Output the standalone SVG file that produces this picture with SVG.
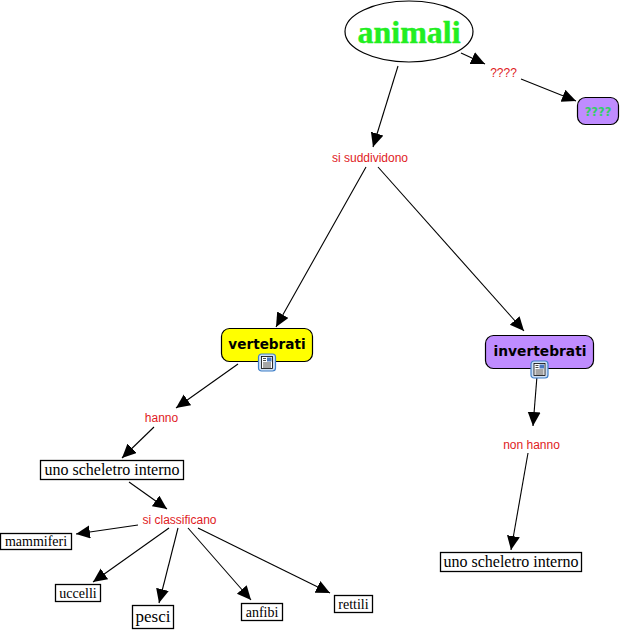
<svg xmlns="http://www.w3.org/2000/svg" width="620" height="630" viewBox="0 0 620 630">
<defs>
<marker id="ah" markerUnits="userSpaceOnUse" markerWidth="15" markerHeight="14" refX="14" refY="6.500" orient="auto"><path d="M0 0L14 6.500L0 13Z" fill="#000"/></marker>
<g id="doc"><rect x="0" y="0" width="17" height="17" rx="3" fill="#cfe0f5" stroke="#3f7fc8" stroke-width="1.2"/><rect x="3" y="2.500" width="11" height="12" fill="#fff" stroke="#000" stroke-width="0.8"/><path d="M4.500 9H12.500M4.500 11H12.500M4.500 13H12.500M4.500 4.500H7.500M4.500 6.500H7.500" stroke="#000" stroke-width="0.7" fill="none"/><rect x="8.500" y="3.500" width="4.500" height="4" fill="#4a78c0"/></g>
</defs>
<style>
.c{stroke:#000;stroke-width:1.1;fill:none;marker-end:url(#ah)}
.l{font:12px "Liberation Sans",Arial,sans-serif;fill:#e01b24;text-anchor:middle}
.b{fill:#fff;stroke:#000;stroke-width:1.3}
.t{font-family:"Liberation Serif","Times New Roman",serif;fill:#000;text-anchor:middle}
.r{stroke:#000;stroke-width:1.2}
.v{font-family:"DejaVu Sans",Verdana,sans-serif;font-weight:bold;text-anchor:middle}
</style>
<rect width="620" height="630" fill="#fff"/>
<g id="connectors">
<path class="c" d="M398 66L373 147"/>
<path class="c" d="M461 53L485 64"/>
<path class="c" d="M521 79L576 101"/>
<path class="c" d="M366 167L276 327"/>
<path class="c" d="M378 167L524 331"/>
<path class="c" d="M238 364L176 408"/>
<path class="c" d="M154 427L122 458"/>
<path class="c" d="M129 482L167 509"/>
<path class="c" d="M138 525L76 534"/>
<path class="c" d="M169 528L93 582"/>
<path class="c" d="M178 528L159 603"/>
<path class="c" d="M188 528L251 600"/>
<path class="c" d="M198 528L330 593"/>
<path class="c" d="M537 376L533 426"/>
<path class="c" d="M528 453L511 550"/>
</g>
<g id="animali"><ellipse cx="409" cy="31.500" rx="64" ry="30.500" fill="#fff" stroke="#000" stroke-width="1.2"/><text class="t" x="409" y="43" font-size="32" font-weight="bold" style="fill:#22ee22;stroke:#22ee22;stroke-width:.4">animali</text></g>
<g id="label-q"><text class="l" x="503.500" y="76.500">????</text></g>
<g id="node-q"><rect class="r" x="577.500" y="97.500" width="41" height="27" rx="8" fill="#bf8cff"/><text class="v" x="598" y="116" font-size="11.500" style="fill:#33cc66">????</text></g>
<g id="label-suddividono"><text class="l" x="370" y="162">si suddividono</text></g>
<g id="vertebrati"><rect class="r" x="221.500" y="328.500" width="91" height="33" rx="8" fill="#ffff00"/><text class="v" x="267" y="349" font-size="13.600">vertebrati</text><use href="#doc" x="258.500" y="354"/></g>
<g id="invertebrati"><rect class="r" x="485.500" y="335.500" width="108" height="33" rx="8" fill="#bf8cff"/><text class="v" x="540" y="356" font-size="13.800">invertebrati</text><use href="#doc" x="531" y="361"/></g>
<g id="label-hanno"><text class="l" x="161.500" y="422">hanno</text></g>
<g id="label-nonhanno"><text class="l" x="531.500" y="449">non hanno</text></g>
<g id="scheletro1"><rect class="b" x="40.500" y="460.500" width="143" height="19"/><text class="t" x="112" y="475" font-size="16">uno scheletro interno</text></g>
<g id="scheletro2"><rect class="b" x="440.500" y="552.500" width="141" height="19"/><text class="t" x="511" y="567" font-size="16">uno scheletro interno</text></g>
<g id="label-classificano"><text class="l" x="179.500" y="524">si classificano</text></g>
<g id="mammiferi"><rect class="b" x="0.500" y="533.500" width="71" height="16"/><text class="t" x="36" y="546" font-size="14">mammiferi</text></g>
<g id="uccelli"><rect class="b" x="55.500" y="584.500" width="45" height="17"/><text class="t" x="78" y="598" font-size="14">uccelli</text></g>
<g id="pesci"><rect class="b" x="132.500" y="605.500" width="41" height="23"/><text class="t" x="153" y="622" font-size="17">pesci</text></g>
<g id="anfibi"><rect class="b" x="241.500" y="603.500" width="41" height="17"/><text class="t" x="262" y="617" font-size="14">anfibi</text></g>
<g id="rettili"><rect class="b" x="334.500" y="595.500" width="38" height="17"/><text class="t" x="353.500" y="609" font-size="14">rettili</text></g>
</svg>
